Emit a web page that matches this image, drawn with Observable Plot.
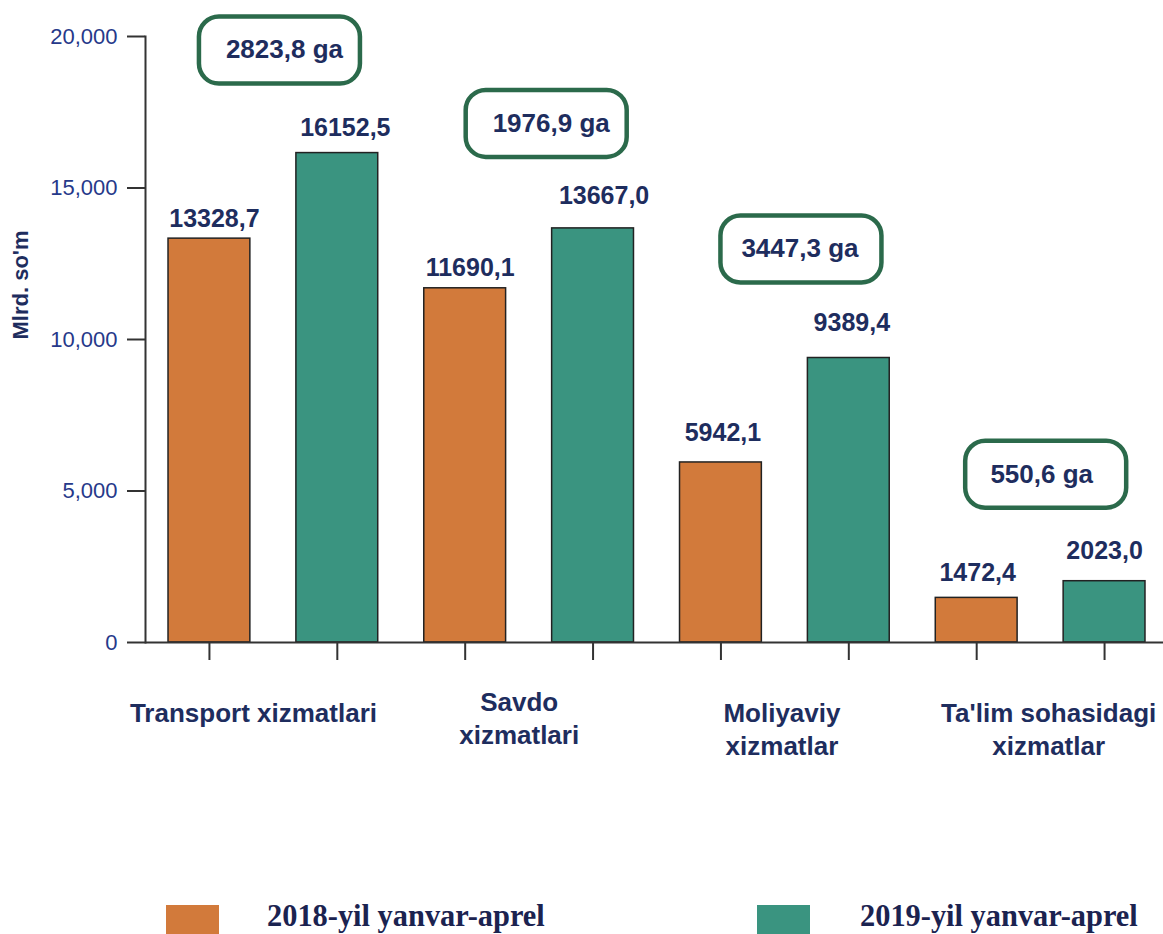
<!DOCTYPE html>
<html>
<head>
<meta charset="utf-8">
<script src="https://cdn.jsdelivr.net/npm/d3@7"></script>
<script src="https://cdn.jsdelivr.net/npm/@observablehq/plot@0.6"></script>
<style>
  html, body { margin: 0; padding: 0; background: #fff; }
  #wrap { position: relative; width: 1163px; height: 934px; overflow: hidden; background: #fff; }
  .lg-sw { position: absolute; top: 905px; width: 53px; height: 34px; }
  .lg-tx { position: absolute; top: 899px; font-family: "Liberation Serif", "Times New Roman", serif; font-weight: bold; font-size: 32px; line-height: 1; color: #1b2350; transform: scaleX(0.95); transform-origin: left center; white-space: nowrap; }
</style>
</head>
<body>
<div id="wrap">
  <div id="chart"></div>
  <div id="legend"></div>
</div>
<script>
// ---- data ----
const categories = ["Transport xizmatlari", "Savdo xizmatlari", "Moliyaviy xizmatlar", "Ta'lim sohasidagi xizmatlar"];
const categoryLabels = ["Transport xizmatlari", "Savdo\nxizmatlari", "Moliyaviy\nxizmatlar", "Ta'lim sohasidagi\nxizmatlar"];
const years = ["2018-yil yanvar-aprel", "2019-yil yanvar-aprel"];
const values2018 = [13328.7, 11690.1, 5942.1, 1472.4];
const values2019 = [16152.5, 13667.0, 9389.4, 2023.0];
const growth = [2823.8, 1976.9, 3447.3, 550.6];
const yTicks = [0, 5000, 10000, 15000, 20000];
const axisTitle = "Mlrd. so'm";

// ---- derived tables ----
const bars = categories.flatMap((c, i) => [
  {cat: c, key: c + "|0", year: years[0], value: values2018[i]},
  {cat: c, key: c + "|1", year: years[1], value: values2019[i]}
]);
const groups = categories.map((c, i) => ({cat: c, key: c + "|0", label: categoryLabels[i], top: values2019[i], growth: growth[i]}));

const colors = ["#d27a3b", "#3a9480"];
const navy = "#1e2d5e";
const tickBlue = "#26398a";
const boxGreen = "#2b6a4b";
const fmt = v => d3.format(".1f")(v).replace(".", ",");

function roundRect(w, h, r) {
  return {
    draw(ctx) {
      const x0 = -w / 2, y0 = -h / 2, x1 = w / 2, y1 = h / 2;
      ctx.moveTo(x0 + r, y0);
      ctx.lineTo(x1 - r, y0);
      ctx.arcTo(x1, y0, x1, y0 + r, r);
      ctx.lineTo(x1, y1 - r);
      ctx.arcTo(x1, y1, x1 - r, y1, r);
      ctx.lineTo(x0 + r, y1);
      ctx.arcTo(x0, y1, x0, y1 - r, r);
      ctx.lineTo(x0, y0 + r);
      ctx.arcTo(x0, y0, x0 + r, y0, r);
      ctx.closePath();
    }
  };
}

// per-item label nudges (layout only)
const valDx = [5, 8, 5, 11, 2, 3, 1, 0];
const valDy = [-20, -25, -20, -32, -29, -35, -25, -30];
const boxDx = [70, 81, 80, 69];
const boxDy = [-103, -105, -109, -107];
const boxTxtDx = [75, 86, 79, 65];
const catDx = [44, 54, 61, 72];
const catDy = [56, 45, 56, 56];

const chart = Plot.plot({
  width: 1168,
  height: 890,
  marginLeft: 145,
  marginRight: 0,
  marginTop: 36,
  marginBottom: 248,
  style: {fontFamily: "'Liberation Sans', Arial, sans-serif", background: "white", maxWidth: "none", overflow: "visible"},
  x: {domain: bars.map(d => d.key), paddingInner: 0.36, paddingOuter: 0.18, round: false},
  y: {domain: [0, 20000]},
  color: {domain: years, range: colors},
  marks: [
    Plot.barY(bars, {x: "key", y: "value", fill: "year", stroke: "#222", strokeWidth: 1.5}),
    Plot.ruleY([0], {stroke: "#333", strokeWidth: 2}),
    Plot.frame({anchor: "left", stroke: "#333", strokeWidth: 2}),
    Plot.axisY({ticks: yTicks, tickSize: 18, tickPadding: 10, tickFormat: d3.format(","), fontSize: 22, fill: tickBlue, stroke: "#333", strokeWidth: 2, label: null}),
    Plot.axisX({tickSize: 18, tickFormat: () => "", stroke: "#333", strokeWidth: 2, label: null}),
    Plot.text([axisTitle], {text: d => d, frameAnchor: "left", dx: -125, rotate: -90, fontSize: "22px", fontWeight: "bold", fill: navy}),
    ...bars.map((b, i) => Plot.text([b], {x: "key", y: "value", text: d => fmt(d.value), dx: valDx[i], dy: valDy[i], fontSize: 25, fontWeight: "bold", fill: navy})),
    ...groups.map((g, i) => Plot.dot([g], {x: "key", y: "top", dx: boxDx[i], dy: boxDy[i], r: 10, symbol: roundRect(161, 67, 20), fill: "white", stroke: boxGreen, strokeWidth: 4.5})),
    ...groups.map((g, i) => Plot.text([g], {x: "key", y: "top", dx: boxTxtDx[i], dy: boxDy[i], text: d => fmt(d.growth) + " ga", fontSize: 26, fontWeight: "bold", fill: navy})),
    ...groups.map((g, i) => Plot.text([g], {x: "key", y: () => 0, dx: catDx[i], dy: catDy[i], text: "label", lineAnchor: "top", lineHeight: 1.27, fontSize: 26, fontWeight: "bold", fill: navy}))
  ]
});
document.getElementById("chart").appendChild(chart);

// legend
const legend = document.getElementById("legend");
const swX = [166, 757];
const txX = [267, 860];
years.forEach((y, i) => {
  const sw = document.createElement("div");
  sw.className = "lg-sw";
  sw.style.left = swX[i] + "px";
  sw.style.background = colors[i];
  legend.appendChild(sw);
  const tx = document.createElement("div");
  tx.className = "lg-tx";
  tx.style.left = txX[i] + "px";
  tx.textContent = y;
  legend.appendChild(tx);
});
</script>
</body>
</html>
